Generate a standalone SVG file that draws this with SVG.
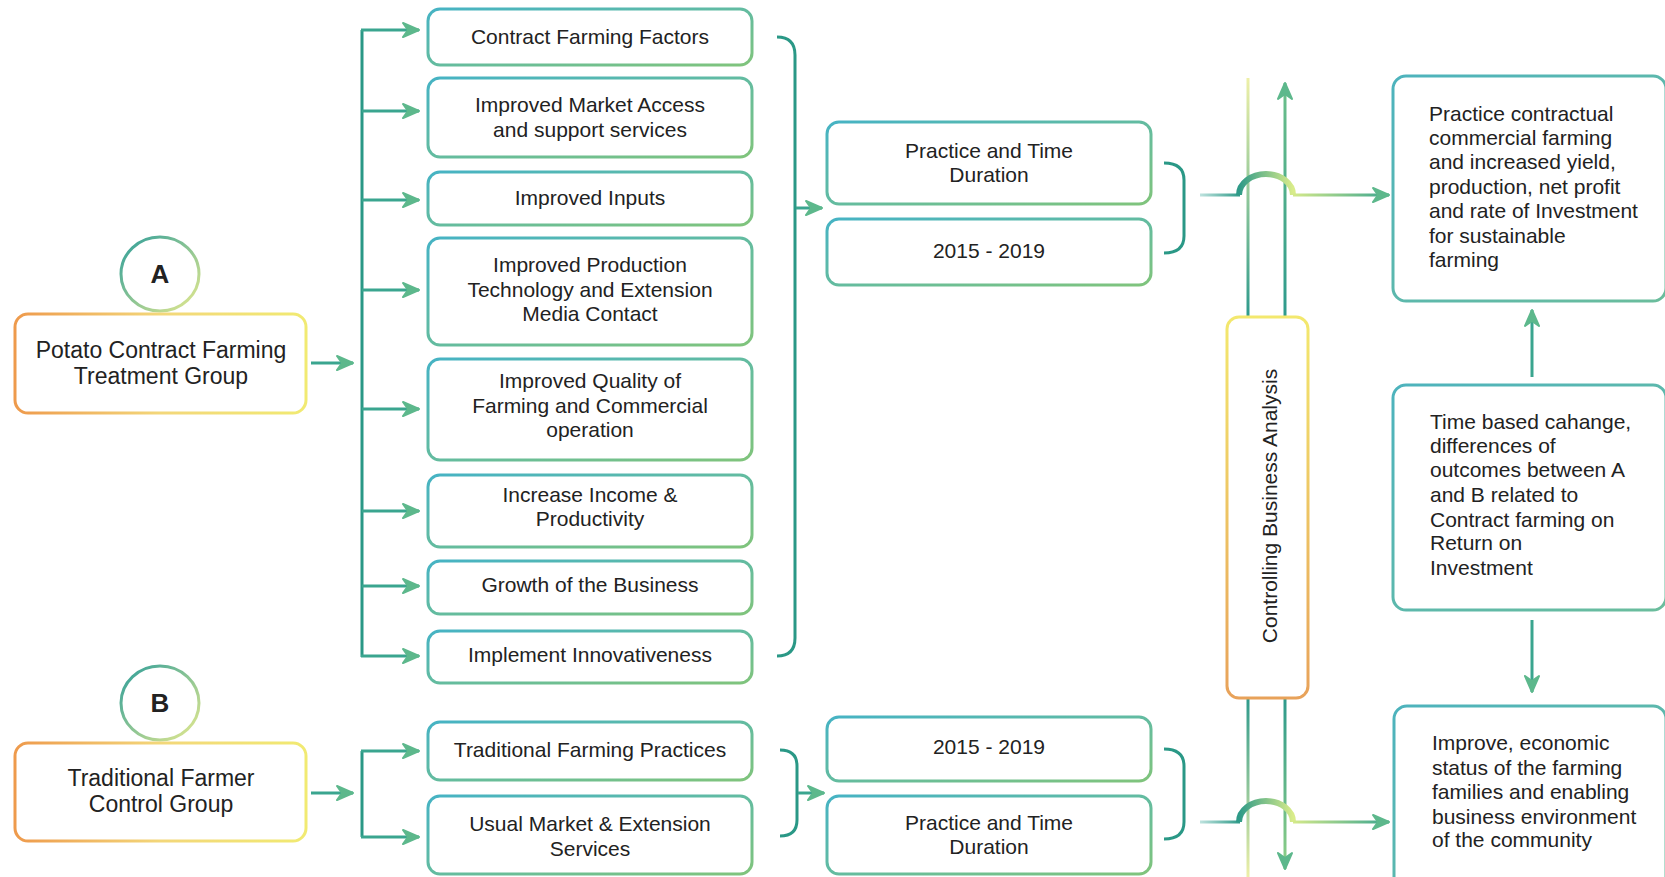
<svg xmlns="http://www.w3.org/2000/svg" width="1665" height="877" viewBox="0 0 1665 877">
<defs>
<linearGradient id="gBox" x1="0" y1="0" x2="1" y2="1"><stop offset="0" stop-color="#46b3c4"/><stop offset="1" stop-color="#80c47c"/></linearGradient>
<linearGradient id="gOr" x1="0" y1="0" x2="1" y2="0"><stop offset="0" stop-color="#ee9a4c"/><stop offset="0.5" stop-color="#f3d77a"/><stop offset="1" stop-color="#f1ea72"/></linearGradient>
<linearGradient id="gCir" x1="0" y1="0" x2="1" y2="1"><stop offset="0" stop-color="#2f9e9a"/><stop offset="1" stop-color="#e6ea8e"/></linearGradient>
<linearGradient id="gCtrl" x1="0" y1="0" x2="0" y2="1"><stop offset="0" stop-color="#f3e86e"/><stop offset="1" stop-color="#e8a25a"/></linearGradient>
<linearGradient id="gRt" x1="0" y1="0" x2="1" y2="1"><stop offset="0" stop-color="#4db3bd"/><stop offset="1" stop-color="#6bbd9c"/></linearGradient>
<linearGradient id="gArc" x1="0" y1="0" x2="1" y2="0"><stop offset="0" stop-color="#2e9a88"/><stop offset="1" stop-color="#d9ec8a"/></linearGradient>
<linearGradient id="gIn" x1="1200" y1="0" x2="1240" y2="0" gradientUnits="userSpaceOnUse"><stop offset="0" stop-color="#bfe3df"/><stop offset="1" stop-color="#2e9a88"/></linearGradient>
<linearGradient id="gOut" x1="1292" y1="0" x2="1390" y2="0" gradientUnits="userSpaceOnUse"><stop offset="0" stop-color="#d6ea8a"/><stop offset="1" stop-color="#3aa58f"/></linearGradient>
<linearGradient id="gVTopL" x1="0" y1="78" x2="0" y2="316" gradientUnits="userSpaceOnUse"><stop offset="0" stop-color="#eef0a8"/><stop offset="0.5" stop-color="#8fc79a"/><stop offset="1" stop-color="#2e9a8c"/></linearGradient>
<linearGradient id="gVTopR" x1="0" y1="84" x2="0" y2="316" gradientUnits="userSpaceOnUse"><stop offset="0" stop-color="#6cbf8a"/><stop offset="1" stop-color="#2e9a8c"/></linearGradient>
<linearGradient id="gVBotL" x1="0" y1="698" x2="0" y2="877" gradientUnits="userSpaceOnUse"><stop offset="0" stop-color="#2e9a8c"/><stop offset="1" stop-color="#eef0a8"/></linearGradient>
<linearGradient id="gVBotR" x1="0" y1="698" x2="0" y2="868" gradientUnits="userSpaceOnUse"><stop offset="0" stop-color="#2e9a8c"/><stop offset="1" stop-color="#8fcf86"/></linearGradient>
<marker id="arr" viewBox="0 0 20 18" refX="18" refY="9" markerWidth="20" markerHeight="18" markerUnits="userSpaceOnUse" orient="auto">
<path d="M2,2 L18,9 L2,16 L7,9 Z" fill="#5db88c" stroke="#5db88c" stroke-width="2" stroke-linejoin="round"/>
</marker>
<style>
.box{fill:#fff;stroke:url(#gBox);stroke-width:3}
.grp{fill:#fff;stroke:url(#gOr);stroke-width:3}
.rt{fill:#fff;stroke:url(#gRt);stroke-width:3}
.cir{fill:#fff;stroke:url(#gCir);stroke-width:3}
.ctrl{fill:#fff;stroke:url(#gCtrl);stroke-width:3}
.ln{fill:none;stroke:#2a9886;stroke-width:3}
.ar{fill:none;stroke:#3aa58f;stroke-width:3;marker-end:url(#arr)}
text{font-family:"Liberation Sans",Arial,sans-serif;fill:#222}
.t{font-size:21px;text-anchor:middle}
.tg{font-size:23px;text-anchor:middle}
.tl{font-size:21px}
.big{font-size:26px;font-weight:bold;text-anchor:middle}
</style>
</defs>
<rect width="1665" height="877" fill="#fff"/>

<g id="connectors">
<line class="ar" x1="311" y1="363" x2="353" y2="363"/>
<line class="ln" x1="362" y1="30" x2="362" y2="657"/>
<line class="ar" x1="361" y1="30" x2="419" y2="30"/>
<line class="ar" x1="362" y1="111" x2="419" y2="111"/>
<line class="ar" x1="362" y1="200" x2="419" y2="200"/>
<line class="ar" x1="362" y1="290" x2="419" y2="290"/>
<line class="ar" x1="362" y1="409" x2="419" y2="409"/>
<line class="ar" x1="362" y1="511" x2="419" y2="511"/>
<line class="ar" x1="362" y1="586" x2="419" y2="586"/>
<line class="ar" x1="361" y1="656" x2="419" y2="656"/>
<path class="ln" d="M777,37 Q795,37 795,55 L795,638 Q795,656 777,656"/>
<line class="ar" x1="796" y1="208" x2="822" y2="208"/>
<path class="ln" d="M1164,163 Q1184,163 1184,180 L1184,236 Q1184,253 1164,253"/>
<line class="ar" x1="311" y1="793" x2="353" y2="793"/>
<line class="ln" x1="362" y1="751" x2="362" y2="837"/>
<line class="ar" x1="361" y1="751" x2="419" y2="751"/>
<line class="ar" x1="361" y1="837" x2="419" y2="837"/>
<path class="ln" d="M780,750 Q797,750 797,766 L797,820 Q797,836 780,836"/>
<line class="ar" x1="798" y1="793" x2="824" y2="793"/>
<path class="ln" d="M1164,749 Q1184,749 1184,766 L1184,822 Q1184,839 1164,839"/>
<line x1="1248" y1="78" x2="1248" y2="316" stroke="url(#gVTopL)" stroke-width="3"/>
<line x1="1285" y1="316" x2="1285" y2="83" stroke="url(#gVTopR)" stroke-width="3" marker-end="url(#arr)"/>
<line x1="1248" y1="698" x2="1248" y2="877" stroke="url(#gVBotL)" stroke-width="3"/>
<line x1="1285" y1="698" x2="1285" y2="869" stroke="url(#gVBotR)" stroke-width="3" marker-end="url(#arr)"/>
<line x1="1200" y1="195" x2="1240" y2="195" stroke="url(#gIn)" stroke-width="3"/>
<path d="M1239,195 A27,21 0 0 1 1293,195" fill="none" stroke="url(#gArc)" stroke-width="6"/>
<line x1="1293" y1="195" x2="1389" y2="195" stroke="url(#gOut)" stroke-width="3" marker-end="url(#arr)"/>
<line x1="1200" y1="822" x2="1240" y2="822" stroke="url(#gIn)" stroke-width="3"/>
<path d="M1239,822 A27,21 0 0 1 1293,822" fill="none" stroke="url(#gArc)" stroke-width="6"/>
<line x1="1293" y1="822" x2="1389" y2="822" stroke="url(#gOut)" stroke-width="3" marker-end="url(#arr)"/>
<line class="ar" x1="1532" y1="377" x2="1532" y2="310"/>
<line class="ar" x1="1532" y1="620" x2="1532" y2="692"/>
</g>

<g id="circleA"><ellipse class="cir" cx="160" cy="274" rx="39" ry="37"/><text class="big" x="160" y="283">A</text></g>
<g id="groupA"><rect class="grp" x="15" y="314" width="291" height="99" rx="13"/><text class="tg" x="161" y="358">Potato Contract Farming</text><text class="tg" x="161" y="384">Treatment Group</text></g>

<g id="circleB"><ellipse class="cir" cx="160" cy="703" rx="39" ry="37"/><text class="big" x="160" y="712">B</text></g>
<g id="groupB"><rect class="grp" x="15" y="743" width="291" height="98" rx="13"/><text class="tg" x="161" y="786">Traditional Farmer</text><text class="tg" x="161" y="812">Control Group</text></g>

<g id="f1"><rect class="box" x="428" y="9" width="324" height="56" rx="12"/><text class="t" x="590" y="44">Contract Farming Factors</text></g>
<g id="f2"><rect class="box" x="428" y="78" width="324" height="79" rx="12"/><text class="t" x="590" y="112">Improved Market Access</text><text class="t" x="590" y="137">and support services</text></g>
<g id="f3"><rect class="box" x="428" y="172" width="324" height="53" rx="12"/><text class="t" x="590" y="205">Improved Inputs</text></g>
<g id="f4"><rect class="box" x="428" y="238" width="324" height="107" rx="12"/><text class="t" x="590" y="272">Improved Production</text><text class="t" x="590" y="297">Technology and Extension</text><text class="t" x="590" y="321">Media Contact</text></g>
<g id="f5"><rect class="box" x="428" y="359" width="324" height="101" rx="12"/><text class="t" x="590" y="388">Improved Quality of</text><text class="t" x="590" y="413">Farming and Commercial</text><text class="t" x="590" y="437">operation</text></g>
<g id="f6"><rect class="box" x="428" y="475" width="324" height="72" rx="12"/><text class="t" x="590" y="502">Increase Income &amp;</text><text class="t" x="590" y="526">Productivity</text></g>
<g id="f7"><rect class="box" x="428" y="561" width="324" height="53" rx="12"/><text class="t" x="590" y="592">Growth of the Business</text></g>
<g id="f8"><rect class="box" x="428" y="631" width="324" height="52" rx="12"/><text class="t" x="590" y="662">Implement Innovativeness</text></g>

<g id="b1"><rect class="box" x="428" y="722" width="324" height="58" rx="12"/><text class="t" x="590" y="757">Traditional Farming Practices</text></g>
<g id="b2"><rect class="box" x="428" y="796" width="324" height="78" rx="12"/><text class="t" x="590" y="831">Usual Market &amp; Extension</text><text class="t" x="590" y="856">Services</text></g>

<g id="p1"><rect class="box" x="827" y="122" width="324" height="82" rx="12"/><text class="t" x="989" y="158">Practice and Time</text><text class="t" x="989" y="182">Duration</text></g>
<g id="p2"><rect class="box" x="827" y="219" width="324" height="66" rx="12"/><text class="t" x="989" y="258">2015 - 2019</text></g>
<g id="q1"><rect class="box" x="827" y="717" width="324" height="64" rx="12"/><text class="t" x="989" y="754">2015 - 2019</text></g>
<g id="q2"><rect class="box" x="827" y="796" width="324" height="78" rx="12"/><text class="t" x="989" y="830">Practice and Time</text><text class="t" x="989" y="854">Duration</text></g>

<g id="ctrl"><rect class="ctrl" x="1227" y="317" width="81" height="381" rx="12"/><text class="t" transform="translate(1277,506) rotate(-90)" x="0" y="0">Controlling Business Analysis</text></g>

<g id="r1"><rect class="rt" x="1393" y="76" width="273" height="225" rx="13"/>
<text class="tl" x="1429" y="121">Practice contractual</text>
<text class="tl" x="1429" y="145">commercial farming</text>
<text class="tl" x="1429" y="169">and increased yield,</text>
<text class="tl" x="1429" y="194">production, net profit</text>
<text class="tl" x="1429" y="218">and rate of Investment</text>
<text class="tl" x="1429" y="243">for sustainable</text>
<text class="tl" x="1429" y="267">farming</text></g>
<g id="r2"><rect class="rt" x="1393" y="385" width="273" height="225" rx="13"/>
<text class="tl" x="1430" y="429">Time based cahange,</text>
<text class="tl" x="1430" y="453">differences of</text>
<text class="tl" x="1430" y="477">outcomes between A</text>
<text class="tl" x="1430" y="502">and B related to</text>
<text class="tl" x="1430" y="527">Contract farming on</text>
<text class="tl" x="1430" y="550">Return on</text>
<text class="tl" x="1430" y="575">Investment</text></g>
<g id="r3"><rect class="rt" x="1394" y="706" width="272" height="200" rx="13"/>
<text class="tl" x="1432" y="750">Improve, economic</text>
<text class="tl" x="1432" y="775">status of the farming</text>
<text class="tl" x="1432" y="799">families and enabling</text>
<text class="tl" x="1432" y="824">business environment</text>
<text class="tl" x="1432" y="847">of the community</text></g>
</svg>
